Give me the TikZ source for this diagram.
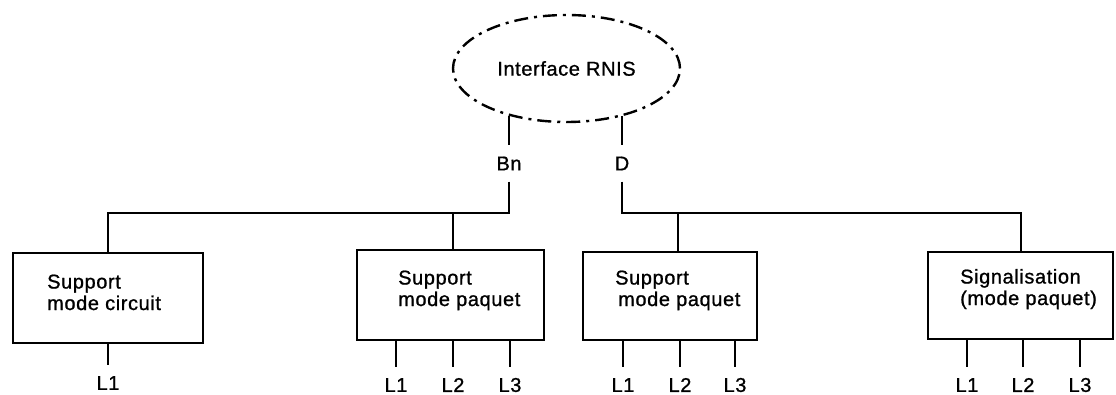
\documentclass[tikz,border=0pt]{standalone}
\usepackage{fontspec}
\setmainfont{Liberation Sans}[LetterSpace=3,FakeBold=1]
\usetikzlibrary{shapes.geometric}
\begin{document}
\begin{tikzpicture}[x=1pt,y=-1pt,
  txt/.style={font=\fontsize{20}{21.5}\selectfont, inner sep=0pt},
  box/.style={draw, line width=2.4pt, inner sep=0pt},
  wire/.style={line width=2pt},
  wlab/.style={txt, minimum height=36pt},
  blabel/.style={txt, anchor=base west, align=left}]
\useasboundingbox (0,0) rectangle (1116,394);
% ellipse
\node[ellipse, draw, line width=2.4pt, dash pattern=on 14pt off 6pt on 3pt off 6pt,
      minimum width=227pt, minimum height=107pt, inner sep=0pt, txt] (ell) at (566.5,68.5) {Interface RNIS};
% wire labels
\node[wlab] (bn) at (509,163.5) {Bn};
\node[wlab] (d) at (622,163.5) {D};
% boxes
\node[box, minimum width=190pt, minimum height=90pt] (b1) at (108,298) {};
\node[box, minimum width=187pt, minimum height=90pt] (b2) at (450.5,295) {};
\node[box, minimum width=174pt, minimum height=88pt] (b3) at (670,296) {};
\node[box, minimum width=185pt, minimum height=87pt] (b4) at (1020.5,295.5) {};
% box texts (anchor at baseline of last line)
\node[blabel] (t1) at (47,310) {Support\\mode circuit};
\node[blabel] (t2) at (398,306) {Support\\mode paquet};
\node[blabel] (t3) at (615,306) {Support\\\hspace*{3pt}mode paquet};
\node[blabel] (t4) at (960,305) {Signalisation\\(mode paquet)};
% junctions
\coordinate (jb) at (453,213);
\coordinate (jd) at (678,213);
% wires from ellipse
\draw[wire] (bn.north |- ell.219) -- (bn.north);
\draw[wire] (d.north |- ell.-40) -- (d.north);
\draw[wire] (bn.south) -- (bn.south |- jb) -| (b1.north);
\draw[wire] (jb) -- (jb |- b2.north);
\draw[wire] (d.south) -- (d.south |- jd) -| (b4.north);
\draw[wire] (jd) -- (jd |- b3.north);
% outputs
\node[wlab] (l11) at (108,383) {L1};
\draw[wire] (b1.south -| l11) -- (l11.north);
\foreach \n/\x in {21/396,22/453,23/510,31/623,32/680,33/735,41/967,42/1023,43/1080}{
  \pgfmathtruncatemacro{\k}{mod(\n,10)}
  \node[wlab] (l\n) at (\x,385) {L\k};
}
\draw[wire] (b2.south -| l21) -- (l21.north);
\draw[wire] (b2.south -| l22) -- (l22.north);
\draw[wire] (b2.south -| l23) -- (l23.north);
\draw[wire] (b3.south -| l31) -- (l31.north);
\draw[wire] (b3.south -| l32) -- (l32.north);
\draw[wire] (b3.south -| l33) -- (l33.north);
\draw[wire] (b4.south -| l41) -- (l41.north);
\draw[wire] (b4.south -| l42) -- (l42.north);
\draw[wire] (b4.south -| l43) -- (l43.north);
\end{tikzpicture}
\end{document}
